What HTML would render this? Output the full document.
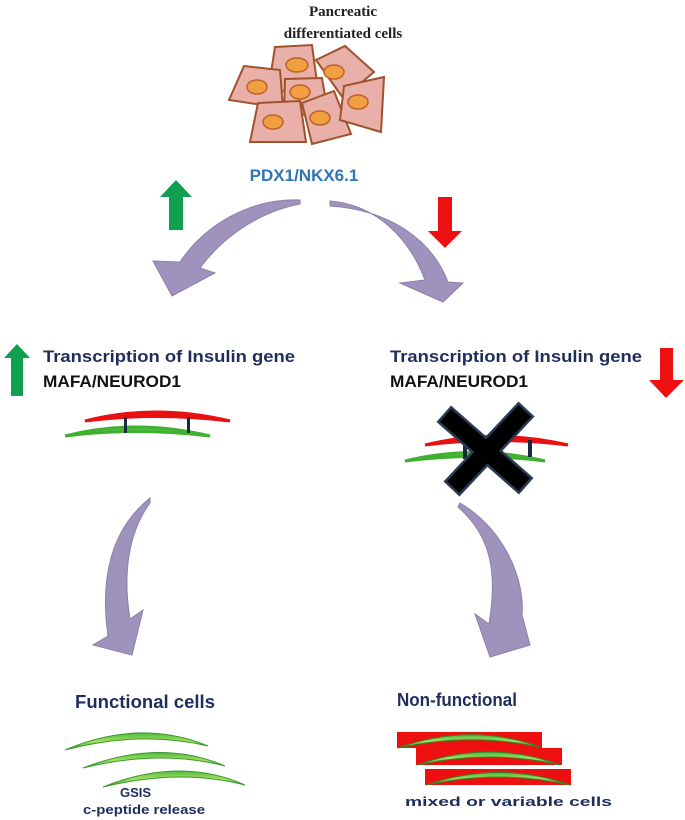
<!DOCTYPE html>
<html><head><meta charset="utf-8"><style>
body{margin:0;background:#fff;width:685px;height:820px;overflow:hidden}
svg{display:block}
.cal{font-family:"Liberation Sans Narrow","Liberation Sans",sans-serif;font-weight:bold}
</style></head><body>
<svg width="685" height="820" viewBox="0 0 685 820" xmlns="http://www.w3.org/2000/svg">
<defs>
<linearGradient id="g" x1="0" y1="0" x2="0" y2="1"><stop offset="0" stop-color="#4cb840"/><stop offset="0.5" stop-color="#a8e060"/><stop offset="1" stop-color="#3aa835"/></linearGradient>
</defs>
<g font-family="Liberation Serif,serif" font-weight="bold" font-size="15" fill="#222" text-anchor="middle">
<text x="343" y="16">Pancreatic</text>
<text x="343" y="38">differentiated  cells</text>
</g>
<g fill="#e8b0a8" stroke="#a0522d" stroke-width="2">
<polygon points="275,47 312,45 318,90 268,92"/>
<polygon points="316,60 345,46 374,72 343,98"/>
<polygon points="244,66 280,70 283,108 229,100"/>
<polygon points="285,79 322,78 328,113 284,116"/>
<polygon points="258,103 300,101 306,142 250,142"/>
<polygon points="302,103 334,91 351,134 312,144"/>
<polygon points="344,86 384,77 381,132 340,120"/>
</g>
<g fill="#f0a040" stroke="#c0602a" stroke-width="1.5">
<ellipse cx="297" cy="65" rx="11" ry="7"/>
<ellipse cx="334" cy="72" rx="10" ry="7"/>
<ellipse cx="257" cy="87" rx="10" ry="7"/>
<ellipse cx="300" cy="92" rx="10" ry="7"/>
<ellipse cx="273" cy="122" rx="10" ry="7"/>
<ellipse cx="320" cy="118" rx="10" ry="7"/>
<ellipse cx="358" cy="102" rx="10" ry="7"/>
</g>
<text x="304" y="181" class="cal" font-size="17" fill="#2e75b6" text-anchor="middle">PDX1/NKX6.1</text>
<polygon points="176,180 192,197 183,197 183,230 169,230 169,197 160,197" fill="#10a050"/>
<polygon points="438,197 452,197 452,231 462,231 445,248 428,231 438,231" fill="#ee1010"/>
<g fill="#9f93bd" stroke="#8a80a8" stroke-width="1">
<path d="M300,200 C250,198 205,225 180,262 L153,261 L172,296 L215,273 L200,268 C222,238 258,212 300,204 Z"/>
<path d="M330,201 C378,205 410,240 425,280 L400,283 L443,302 L463,283 L448,282 C432,240 390,210 330,206 Z"/>
<path d="M150,498 C110,530 100,580 108,636 L93,645 L132,655 L143,610 L130,619 C122,570 130,530 150,503 Z"/>
<path d="M460,503 C505,530 525,580 522,615 L530,645 L490,657 L475,614 L489,624 C498,570 490,535 458,507 Z"/>
</g>
<polygon points="17,344 30,358 23,358 23,396 11,396 11,358 4,358" fill="#10a050"/>
<polygon points="660,348 673,348 673,380 684,380 666,398 649,380 660,380" fill="#ee1010"/>
<g class="cal" font-size="17">
<text x="43" y="362" fill="#1f2d5c" textLength="252" lengthAdjust="spacingAndGlyphs">Transcription of Insulin gene</text>
<text x="43" y="387" fill="#111" textLength="138" lengthAdjust="spacingAndGlyphs">MAFA/NEUROD1</text>
<text x="390" y="362" fill="#1f2d5c" textLength="252" lengthAdjust="spacingAndGlyphs">Transcription of Insulin gene</text>
<text x="390" y="387" fill="#111" textLength="138" lengthAdjust="spacingAndGlyphs">MAFA/NEUROD1</text>
</g>
<path d="M85,421 Q155,403 230,421 Q155,412 85,421 Z" fill="#e81010" stroke="#e81010" stroke-width="3"/>
<path d="M65,436 Q135,418 210,436 Q135,427 65,436 Z" fill="#50c040" stroke="#40b030" stroke-width="3"/>
<rect x="124" y="417" width="3" height="16" fill="#1a2a40"/>
<rect x="187" y="417" width="3" height="16" fill="#1a2a40"/>
<path d="M425,445 Q495,428 568,445 Q495,436 425,445 Z" fill="#e81010" stroke="#e81010" stroke-width="3"/>
<path d="M405,461 Q475,444 545,461 Q475,452 405,461 Z" fill="#50c040" stroke="#40b030" stroke-width="3"/>
<rect x="463" y="442" width="4" height="17" fill="#1a2a40"/>
<rect x="528" y="440" width="4" height="17" fill="#1a2a40"/>
<g stroke="#2a3a55" stroke-width="22" stroke-linecap="square"><line x1="452" y1="421" x2="518" y2="479"/><line x1="519" y1="417" x2="459" y2="481"/></g>
<g stroke="#000" stroke-width="17" stroke-linecap="square"><line x1="452" y1="421" x2="518" y2="479"/><line x1="519" y1="417" x2="459" y2="481"/></g>
<g class="cal" fill="#1f2d5c">
<text x="75" y="708" font-size="18" textLength="140" lengthAdjust="spacingAndGlyphs">Functional cells</text>
<text x="397" y="706" font-size="18" textLength="120" lengthAdjust="spacingAndGlyphs">Non-functional</text>
<text x="120" y="797" font-size="13">GSIS</text>
<text x="83" y="814" font-size="13" textLength="122" lengthAdjust="spacingAndGlyphs">c-peptide release</text>
<text x="405" y="806" font-size="13" textLength="207" lengthAdjust="spacingAndGlyphs">mixed  or variable cells</text>
</g>
<g fill="url(#g)" stroke="#3a9a30" stroke-width="1">
<path d="M65,750 Q140,718 208,746 Q140,730 65,750 Z"/>
<path d="M83,768 Q160,738 225,766 Q160,749 83,768 Z"/>
<path d="M103,787 Q180,756 245,785 Q180,768 103,787 Z"/>
</g>
<rect x="397" y="732" width="145" height="16" fill="#ee1010"/>
<rect x="416" y="748" width="146" height="17" fill="#ee1010"/>
<rect x="425" y="769" width="146" height="16" fill="#ee1010"/>
<g fill="url(#g)" stroke="#2a8a28" stroke-width="1">
<path d="M398,748 Q470,722 540,747 Q470,732 398,748 Z"/>
<path d="M417,765 Q490,739 560,765 Q490,749 417,765 Z"/>
<path d="M426,785 Q500,760 570,785 Q500,769 426,785 Z"/>
</g>
</svg>
</body></html>
